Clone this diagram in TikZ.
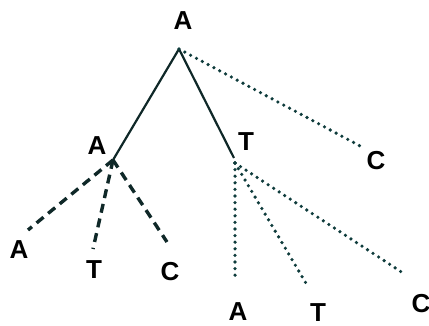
\documentclass[tikz,border=0pt]{standalone}
\usepackage{fontspec}
\setmainfont{Liberation Sans}
\begin{document}
\begin{tikzpicture}[x=1pt,y=-1pt,
  lbl/.style={font=\bfseries\fontsize{26}{26}\selectfont, inner sep=0pt, text=black},
  solidln/.style={draw=lncol, line width=2.2pt},
  dashln/.style={draw=lncol, line width=3.4pt, dash pattern=on 9pt off 6pt},
  dotln/.style={draw=dotcol, line width=3.6pt, line cap=round, dash pattern=on 0pt off 6.6pt}]
\definecolor{lncol}{RGB}{15,40,40}
\definecolor{dotcol}{RGB}{15,60,60}
\useasboundingbox (0,0) rectangle (429,326);
% labels
\node[lbl] (lA) at (183,21) {A};
\node[lbl] (lA2) at (97,146) {A};
\node[lbl] (lT2) at (246,142) {T};
\node[lbl] (lC2) at (376,161) {C};
\node[lbl] (lAA) at (19,250) {A};
\node[lbl] (lAT) at (94,270) {T};
\node[lbl] (lAC) at (170,272) {C};
\node[lbl] (lTA) at (238,312) {A};
\node[lbl] (lTT) at (318,313) {T};
\node[lbl] (lTC) at (421,304) {C};
% branch points
\coordinate (r) at (179,49);
\coordinate (a) at (113,160);
\coordinate (t) at (234,158);
\coordinate (tt) at (235,163);
% leaf ends
\coordinate (eC2) at (362,147);
\coordinate (eAA) at (28,230);
\coordinate (eAT) at (93,249);
\coordinate (eAC) at (167,242);
\coordinate (eTA) at (235,280);
\coordinate (eTT) at (307,285);
\coordinate (eTC) at (403,273);
% connectors
\draw[solidln] (r) -- (a);
\draw[solidln] (r) -- (t);
\draw[dotln] (r) -- (eC2);
\draw[dashln] (a) -- (eAA);
\draw[dashln] (a) -- (eAT);
\draw[dashln] (a) -- (eAC);
\draw[dotln] (tt) -- (eTA);
\draw[dotln] (tt) -- (eTT);
\draw[dotln] (tt) -- (eTC);
\end{tikzpicture}
\end{document}
